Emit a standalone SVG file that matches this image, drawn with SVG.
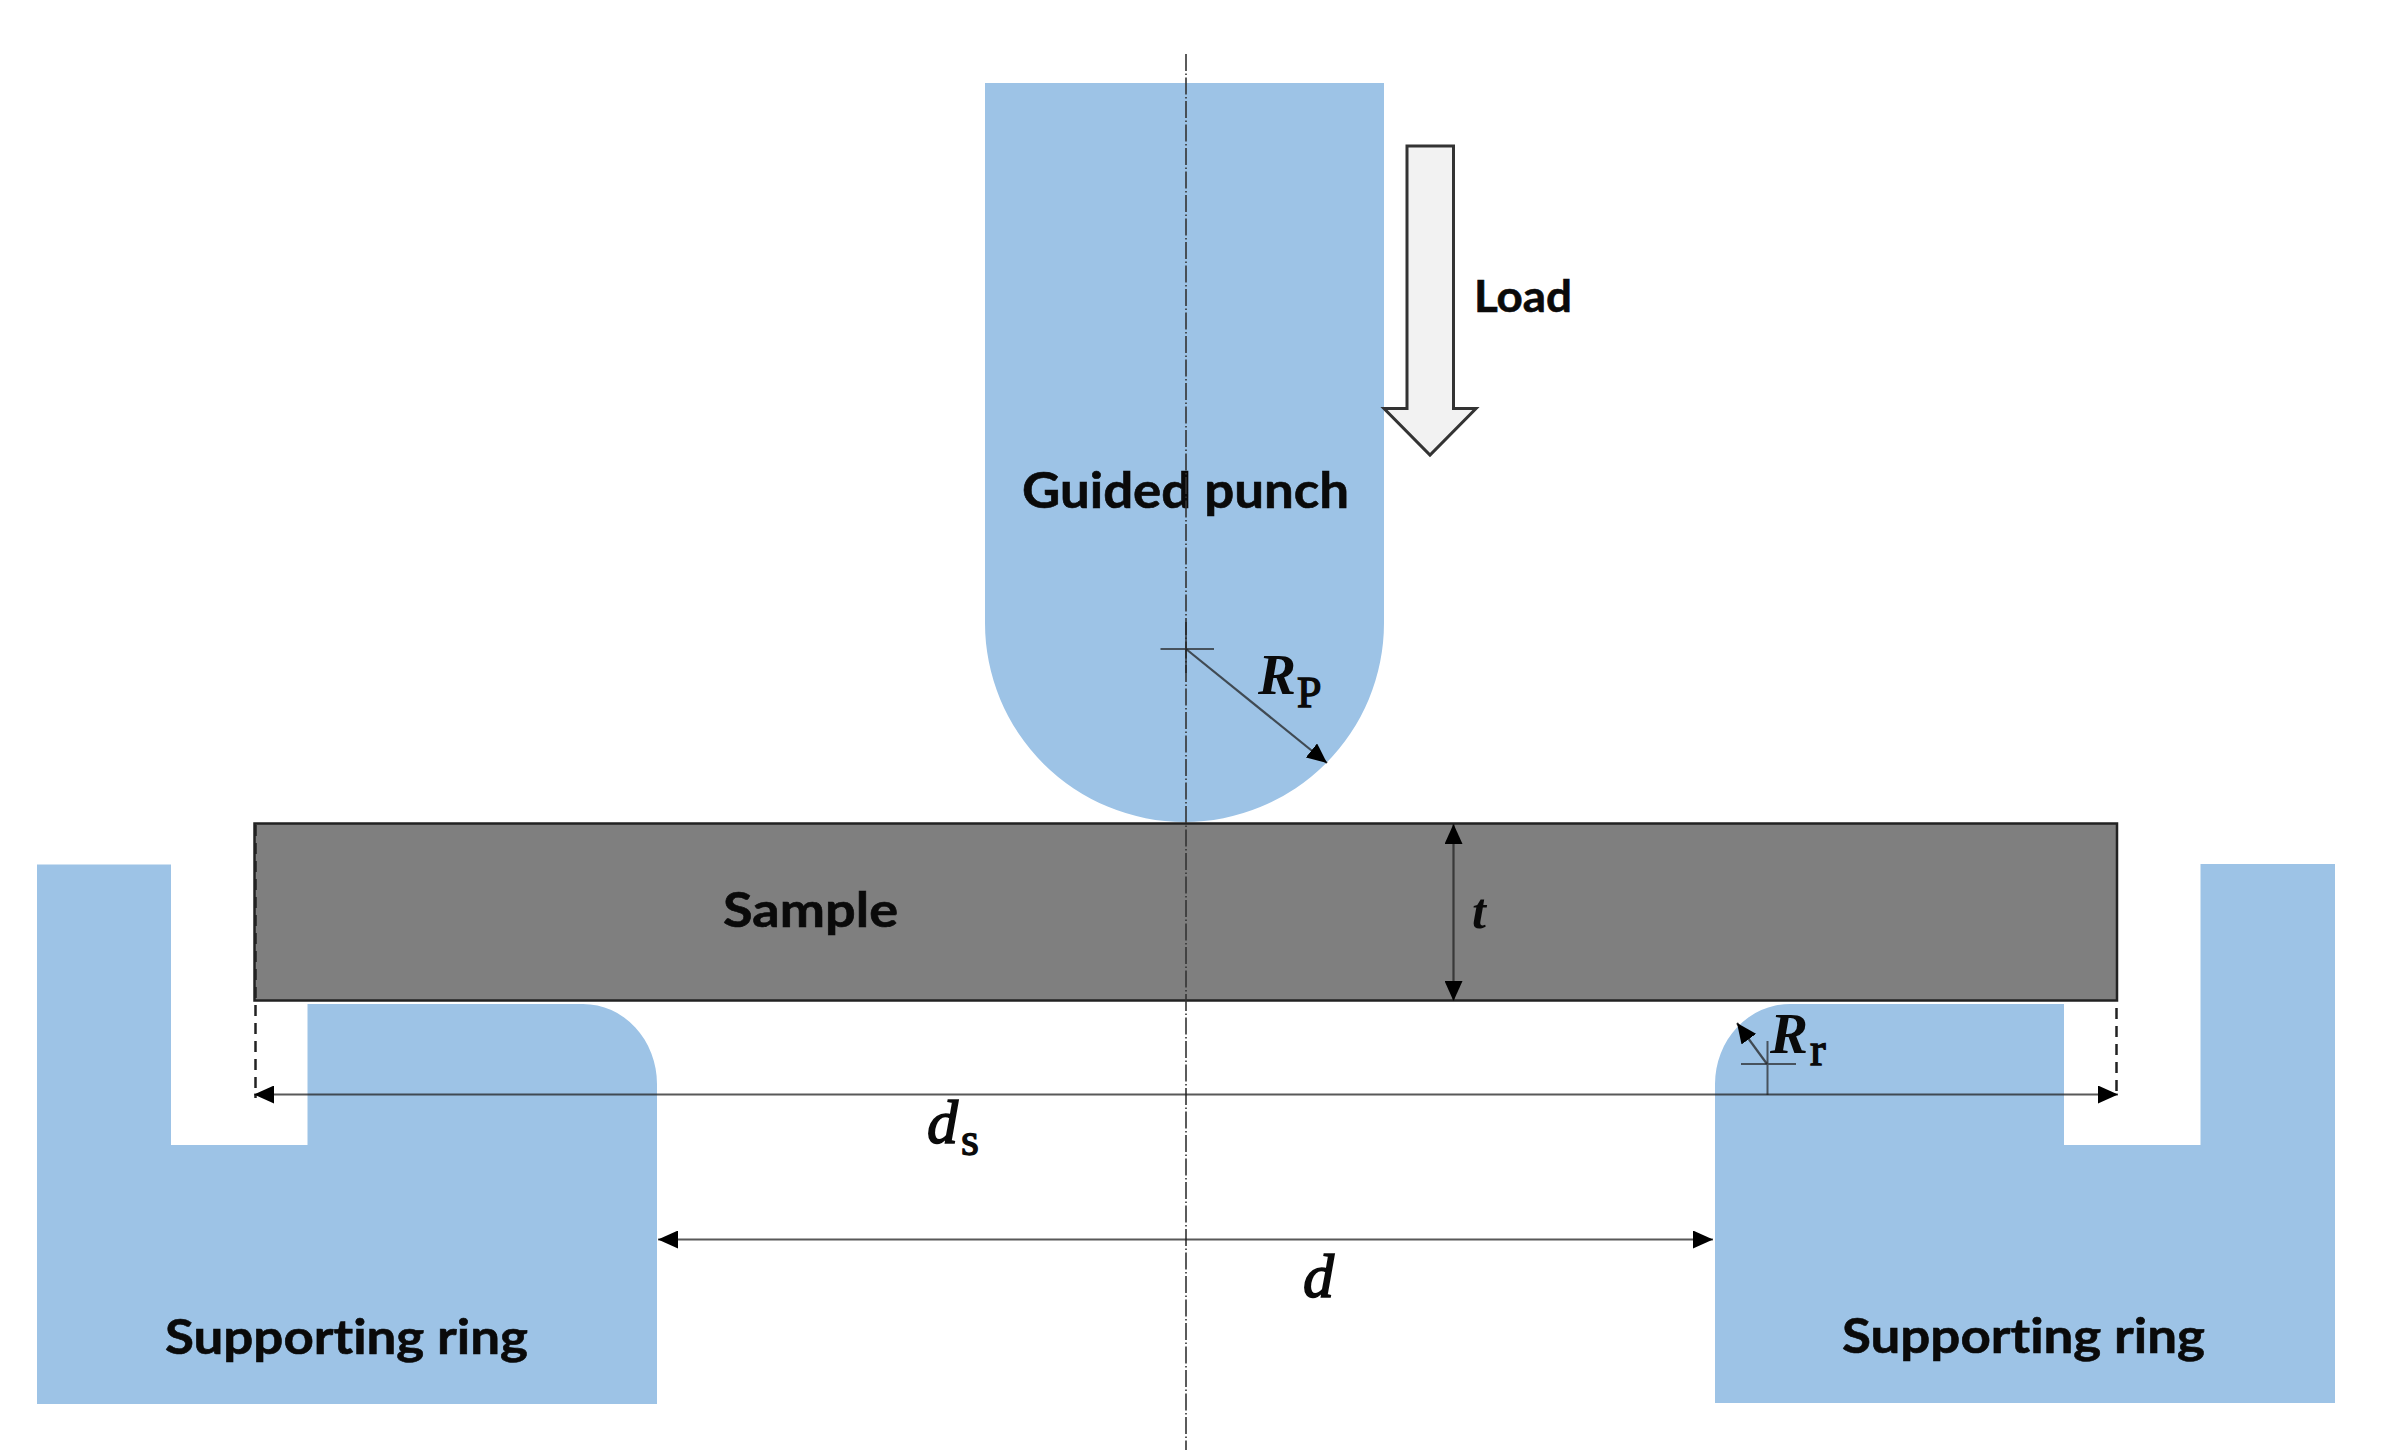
<svg xmlns="http://www.w3.org/2000/svg" width="2386" height="1451" viewBox="0 0 2386 1451">
<style>
.part{fill:#9dc3e6}
.lbl{font-family:"Lato","Open Sans",sans-serif;font-weight:700;fill:#0a0a0a;font-variant-ligatures:none;stroke:#0a0a0a;stroke-width:.6}
.mi{font-family:"Liberation Serif",serif;font-weight:700;font-style:italic;fill:#0a0a0a}
.mi2{font-family:"Liberation Serif",serif;font-weight:400;font-style:italic;fill:#0a0a0a;stroke:#0a0a0a;stroke-width:1.6}
.sub{font-family:"Liberation Serif",serif;font-weight:400;fill:#0a0a0a;stroke:#0a0a0a;stroke-width:1.4}
.dim{fill:none;stroke:#222;stroke-opacity:.75;stroke-width:2.2}
.dash{fill:none;stroke:#222;stroke-width:2.5;stroke-dasharray:11 7}
.axis{fill:none;stroke:#333;stroke-width:1.6;stroke-dasharray:17 2.5 1.5 2.5}
.tick{fill:none;stroke:#222;stroke-opacity:.7;stroke-width:2}
</style>
<defs>
<marker id="head" markerUnits="userSpaceOnUse" markerWidth="20" markerHeight="18" refX="20" refY="9" orient="auto-start-reverse"><path d="M0,0L20,9L0,18z" fill="#000"/></marker>
</defs>
<rect width="2386" height="1451" fill="#fff"/>
<g id="guided-punch">
<path class="part" d="M985,83H1384V623A199.500,199 0 0 1 985,623Z"/>
<text class="lbl" x="1022" y="508" font-size="50" textLength="327" lengthAdjust="spacingAndGlyphs">Guided punch</text>
</g>
<g id="load">
<path d="M1407,146H1453.500V408.500H1476L1430,455L1384,408.500H1407Z" fill="#f2f2f2" stroke="#333" stroke-width="3"/>
<text class="lbl" x="1474" y="311.500" font-size="43" textLength="98" lengthAdjust="spacingAndGlyphs">Load</text>
</g>
<g id="left-ring">
<path class="part" d="M37,864.500H171V1145H307.500V1004H583A74,80 0 0 1 657,1084V1404H37Z"/>
<text class="lbl" x="165" y="1354" font-size="48" textLength="363" lengthAdjust="spacingAndGlyphs">Supporting ring</text>
</g>
<g id="right-ring">
<path class="part" d="M2335,864H2200.500V1145H2064V1004H1790A75,80 0 0 0 1715,1084V1403H2335Z"/>
<text class="lbl" x="1842" y="1353" font-size="48" textLength="363" lengthAdjust="spacingAndGlyphs">Supporting ring</text>
</g>
<g id="sample">
<rect x="254.500" y="823.500" width="1862.500" height="177" fill="#7f7f7f" stroke="#222" stroke-width="2.500"/>
<text class="lbl" x="723" y="927" font-size="48" textLength="175" lengthAdjust="spacingAndGlyphs">Sample</text>
</g>
<g id="connectors">
<line class="axis" x1="1186" y1="54" x2="1186" y2="1450"/>
<path class="dash" d="M255.500,825V1098"/>
<path class="dash" d="M2116.500,1008V1098"/>
<line class="dim" x1="254" y1="1094.500" x2="2118" y2="1094.500" marker-start="url(#head)" marker-end="url(#head)"/>
<line class="dim" x1="658" y1="1239.500" x2="1713" y2="1239.500" marker-start="url(#head)" marker-end="url(#head)"/>
<line class="dim" x1="1453.500" y1="824" x2="1453.500" y2="1001" marker-start="url(#head)" marker-end="url(#head)"/>
<line class="dim" x1="1186" y1="649" x2="1327" y2="763" marker-end="url(#head)"/>
<line class="dim" x1="1767" y1="1064" x2="1737" y2="1023" marker-end="url(#head)"/>
<path class="tick" d="M1160.500,649H1214M1186,622V673"/>
<path class="tick" d="M1741,1064H1796M1767.500,1041V1095"/>
</g>
<g id="labels">
<text class="mi" x="1258" y="694" font-size="57">R</text>
<text class="sub" x="1297" y="706.500" font-size="44">P</text>
<text class="mi" x="1472" y="928" font-size="50">t</text>
<text class="mi" x="1770" y="1052.500" font-size="57">R</text>
<text class="sub" x="1810" y="1065" font-size="47">r</text>
<text class="mi2" x="927" y="1143" font-size="62">d</text>
<text class="sub" x="961" y="1155" font-size="46">s</text>
<text class="mi2" x="1303" y="1296.500" font-size="62">d</text>
</g>
</svg>
